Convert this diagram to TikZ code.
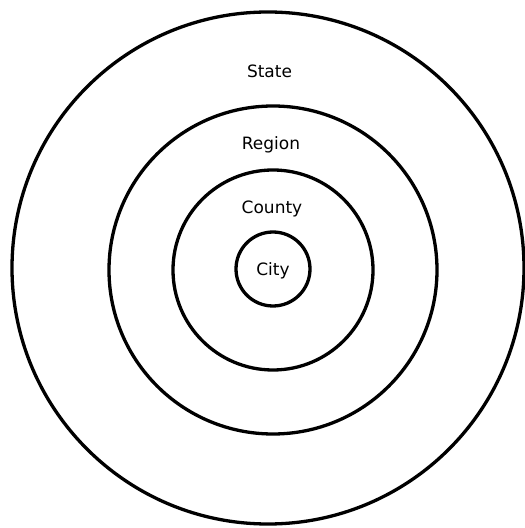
\documentclass[tikz,border=0pt]{standalone}
\usepackage{fontspec}
\setmainfont{DejaVu Sans}
\begin{document}
\begin{tikzpicture}[x=1pt,y=1pt,
  ring/.style={draw=black, line width=3.3pt, circle, inner sep=0pt, outer sep=0pt},
  lbl/.style={anchor=base, inner sep=0pt, font=\fontsize{17}{20}\selectfont}]
\useasboundingbox (0,0) rectangle (525,528);
\node[ring, minimum size=512pt] (state) at (268,260) {};
\node[ring, minimum size=328pt] (region) at (273,258) {};
\node[ring, minimum size=200pt] (county) at (273,258) {};
\node[ring, minimum size=74pt] (city) at (273,259) {};
\node[lbl] (statelbl) at (269.5,450) {State};
\node[lbl] (regionlbl) at (271,378) {Region};
\node[lbl] (countylbl) at (272,314) {County};
\node[lbl] (citylbl) at (273,252) {City};
\end{tikzpicture}
\end{document}
